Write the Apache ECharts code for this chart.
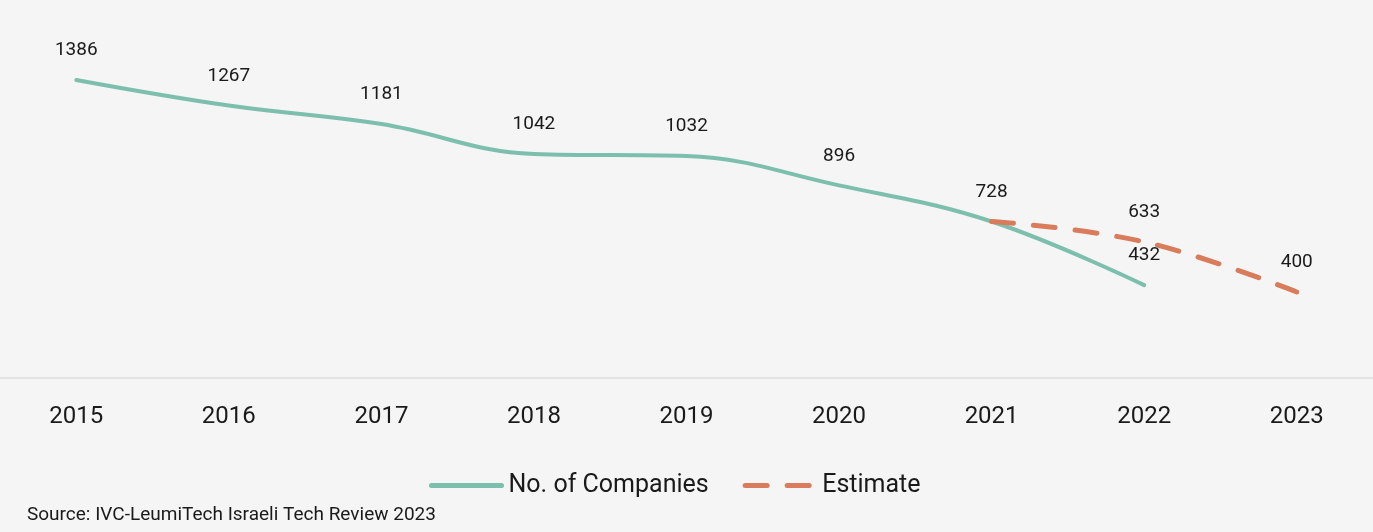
<!DOCTYPE html>
<html>
<head>
<meta charset="utf-8">
<script src="https://cdn.jsdelivr.net/npm/echarts@6/dist/echarts.min.js"></script>
<style>
  html, body { margin: 0; padding: 0; background: #f5f5f5; }
  #chart { width: 1373px; height: 532px; }
</style>
</head>
<body>
<div id="chart"></div>
<script>
// Israeli tech companies founded per year, with the estimate from 2021 on
const years = ['2015', '2016', '2017', '2018', '2019', '2020', '2021', '2022', '2023'];
const companies = [1386, 1267, 1181, 1042, 1032, 896, 728, 432, null];
const estimate = [null, null, null, null, null, null, 728, 633, 400];
// the 2021 estimate point shares its value label with the main line
const estimateLabelled = [false, false, false, false, false, false, false, true, true];

const TEAL = '#7dbfad';
const ORANGE = '#d97c5b';
const TEXT = '#1a1a1a';
const FONT = 'Roboto';

const valueLabel = {
  position: 'top',
  distance: 20,
  fontSize: 19,
  color: TEXT,
  fontFamily: FONT
};

const chart = echarts.init(document.getElementById('chart'), null, { renderer: 'canvas' });

chart.setOption({
  backgroundColor: '#f5f5f5',
  animation: false,
  textStyle: { fontFamily: FONT, color: TEXT },
  grid: { left: 0, right: 0, top: 34, bottom: 154, containLabel: false },
  xAxis: {
    type: 'category',
    data: years,
    boundaryGap: true,
    axisLine: { show: true, lineStyle: { color: '#e3e3e3', width: 2 } },
    axisTick: { show: false },
    axisLabel: { fontSize: 24, color: TEXT, margin: 27, fontFamily: FONT }
  },
  yAxis: {
    type: 'value',
    min: 0,
    max: 1600,
    show: false,
    splitLine: { show: false }
  },
  legend: {
    bottom: 29,
    left: 424,
    itemWidth: 70,
    itemHeight: 14,
    itemGap: 34,
    lineStyle: { width: 5, cap: 'round' },
    itemStyle: { color: 'transparent', borderWidth: 0 },
    textStyle: { fontSize: 25, color: TEXT, fontFamily: FONT, padding: [0, 0, 0, 2] },
    data: ['No. of Companies', 'Estimate']
  },
  series: [
    {
      name: 'Estimate',
      type: 'line',
      data: estimate.map((v, i) => ({
        value: v,
        label: { show: estimateLabelled[i] }
      })),
      smooth: 0.4,
      symbol: 'circle',
      symbolSize: 0,
      showSymbol: true,
      connectNulls: false,
      lineStyle: { color: ORANGE, width: 5, type: [22, 20], cap: 'round' },
      itemStyle: { color: 'transparent' },
      label: Object.assign({ show: false }, valueLabel),
      z: 3
    },
    {
      name: 'No. of Companies',
      type: 'line',
      data: companies,
      smooth: 0.4,
      symbol: 'circle',
      symbolSize: 0,
      showSymbol: true,
      lineStyle: { color: TEAL, width: 4, cap: 'round' },
      itemStyle: { color: 'transparent' },
      label: Object.assign({ show: true }, valueLabel),
      z: 2
    }
  ],
  graphic: [
    {
      type: 'text',
      left: 27,
      top: 506,
      style: {
        text: 'Source: IVC-LeumiTech Israeli Tech Review 2023',
        fontSize: 19,
        fontFamily: FONT,
        fill: TEXT
      }
    }
  ]
});
</script>
</body>
</html>
